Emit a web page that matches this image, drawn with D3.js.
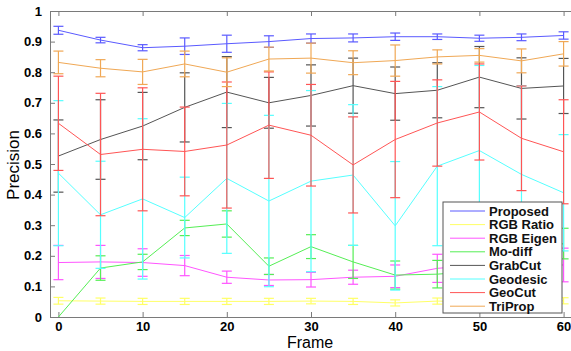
<!DOCTYPE html>
<html>
<head>
<meta charset="utf-8">
<script src="https://cdn.jsdelivr.net/npm/d3@7"></script>
<style>
  body { margin: 0; background: #fff; }
  text { font-family: "Liberation Sans", Arial, sans-serif; }
</style>
</head>
<body>
<script>
var frames = [0, 5, 10, 15, 20, 25, 30, 35, 40, 45, 50, 55, 60];
var yTicks = [0, 0.1, 0.2, 0.3, 0.4, 0.5, 0.6, 0.7, 0.8, 0.9, 1];
var xTicks = [0, 10, 20, 30, 40, 50, 60];

var proposed    = [0.937, 0.905, 0.880, 0.885, 0.893, 0.900, 0.910, 0.912, 0.916, 0.916, 0.911, 0.914, 0.920];
var proposedErr = [0.013, 0.009, 0.010, 0.027, 0.028, 0.019, 0.015, 0.013, 0.012, 0.009, 0.010, 0.011, 0.012];
var rgbRatio    = [0.053, 0.052, 0.051, 0.051, 0.051, 0.051, 0.052, 0.051, 0.046, 0.052, 0.050, 0.051, 0.053];
var rgbRatioErr = [0.011, 0.010, 0.010, 0.010, 0.010, 0.010, 0.009, 0.010, 0.010, 0.010, 0.010, 0.010, 0.010];
var rgbEigen    = [0.178, 0.180, 0.178, 0.168, 0.130, 0.121, 0.122, 0.130, 0.133, 0.159, 0.170, 0.170, 0.170];
var rgbEigenErr = [0.056, 0.054, 0.045, 0.033, 0.020, 0.018, 0.024, 0.023, 0.037, 0.046, 0.045, 0.050, 0.055];
var moDiff      = [0.000, 0.160, 0.180, 0.291, 0.304, 0.166, 0.230, 0.180, 0.137, 0.140, 0.150, 0.200, 0.240];
var moDiffErr   = [0.000, 0.040, 0.025, 0.025, 0.043, 0.027, 0.039, 0.054, 0.046, 0.045, 0.050, 0.050, 0.050];
var grabCut     = [0.526, 0.580, 0.624, 0.685, 0.735, 0.700, 0.724, 0.756, 0.730, 0.741, 0.784, 0.747, 0.755];
var grabCutErr  = [0.118, 0.130, 0.110, 0.113, 0.116, 0.083, 0.100, 0.090, 0.087, 0.090, 0.100, 0.100, 0.090];
var geodesic    = [0.470, 0.334, 0.386, 0.325, 0.453, 0.379, 0.444, 0.464, 0.298, 0.493, 0.544, 0.466, 0.406];
var geodesicErr = [0.237, 0.175, 0.262, 0.132, 0.245, 0.280, 0.296, 0.230, 0.210, 0.260, 0.278, 0.290, 0.190];
var geoCut      = [0.633, 0.531, 0.548, 0.541, 0.562, 0.627, 0.594, 0.497, 0.580, 0.634, 0.670, 0.584, 0.540];
var geoCutErr   = [0.154, 0.200, 0.201, 0.145, 0.206, 0.174, 0.166, 0.157, 0.190, 0.141, 0.157, 0.171, 0.170];
var triProp     = [0.832, 0.813, 0.801, 0.827, 0.800, 0.843, 0.846, 0.831, 0.838, 0.850, 0.855, 0.837, 0.860];
var triPropErr  = [0.037, 0.028, 0.041, 0.042, 0.047, 0.039, 0.049, 0.039, 0.051, 0.023, 0.022, 0.039, 0.040];

var names  = ['Proposed', 'RGB Ratio', 'RGB Eigen', 'Mo-diff', 'GrabCut', 'Geodesic', 'GeoCut', 'TriProp'];
var colors = ['#5a5aff', '#ffff66', '#ff55ff', '#55ee55', '#555555', '#55ffff', '#ff5555', '#f0a855'];
var means  = [proposed, rgbRatio, rgbEigen, moDiff, grabCut, geodesic, geoCut, triProp];
var errs   = [proposedErr, rgbRatioErr, rgbEigenErr, moDiffErr, grabCutErr, geodesicErr, geoCutErr, triPropErr];

var series = names.map(function (n, i) {
  return {
    name: n, color: colors[i],
    points: frames.map(function (f, j) { return { x: f, y: means[i][j], e: errs[i][j] }; })
  };
});

var W = 571, H = 351;
var pLeft = 50, pTop = 11, pRight = 572, pBottom = 317;

var x = d3.scaleLinear().domain([-1, 61]).range([pLeft, pRight]);
var y = d3.scaleLinear().domain([0, 1]).range([pBottom, pTop]);

var svg = d3.select('body').append('svg')
    .attr('width', W)
    .attr('height', H);

svg.append('defs').append('clipPath')
    .attr('id', 'plot')
  .append('rect')
    .attr('x', pLeft).attr('y', pTop)
    .attr('width', pRight - pLeft).attr('height', pBottom - pTop);

// axes (MATLAB style: ticks inside, box on top)
var axisColor = '#7a7a7a';
var gx = svg.append('g')
    .attr('transform', 'translate(0,' + pBottom + ')')
    .call(d3.axisBottom(x).tickValues(xTicks).tickSize(-5).tickPadding(5).tickFormat(d3.format('d')));
var gxTop = svg.append('g')
    .attr('transform', 'translate(0,' + pTop + ')')
    .call(d3.axisTop(x).tickValues(xTicks).tickSize(-5).tickFormat(''));
var gy = svg.append('g')
    .attr('transform', 'translate(' + pLeft + ',0)')
    .call(d3.axisLeft(y).tickValues(yTicks).tickSize(-5).tickPadding(8)
      .tickFormat(function (d) { return d === 0 || d === 1 ? d3.format('d')(d) : d3.format('.1f')(d); }));

[gx, gxTop, gy].forEach(function (g) {
  g.select('.domain').attr('stroke', axisColor);
  g.selectAll('.tick line').attr('stroke', axisColor);
  g.selectAll('.tick text')
      .attr('fill', '#000')
      .style('font-size', '13px')
      .style('font-weight', 'bold');
});

svg.append('text')
    .attr('x', 310)
    .attr('y', 348)
    .attr('text-anchor', 'middle')
    .style('font-size', '16px')
    .text('Frame');

svg.append('text')
    .attr('transform', 'translate(19,165) rotate(-90)')
    .attr('text-anchor', 'middle')
    .style('font-size', '17px')
    .text('Precision');

var plot = svg.append('g').attr('clip-path', 'url(#plot)');

var line = d3.line()
    .x(function (d) { return x(d.x); })
    .y(function (d) { return y(d.y); });

var cap = 5;
series.forEach(function (s) {
  var g = plot.append('g');
  g.append('path')
      .datum(s.points)
      .attr('fill', 'none')
      .attr('stroke', s.color)
      .attr('stroke-width', 1)
      .attr('d', line);

  var bars = g.selectAll('g.bar')
    .data(s.points.filter(function (d) { return d.e > 0; }))
    .enter().append('g')
      .attr('stroke', s.color)
      .attr('stroke-width', 1.2);
  bars.append('line')
      .attr('x1', function (d) { return x(d.x); })
      .attr('x2', function (d) { return x(d.x); })
      .attr('y1', function (d) { return y(d.y - d.e); })
      .attr('y2', function (d) { return y(d.y + d.e); });
  bars.append('line')
      .attr('x1', function (d) { return x(d.x) - cap; })
      .attr('x2', function (d) { return x(d.x) + cap; })
      .attr('y1', function (d) { return y(d.y + d.e); })
      .attr('y2', function (d) { return y(d.y + d.e); });
  bars.append('line')
      .attr('x1', function (d) { return x(d.x) - cap; })
      .attr('x2', function (d) { return x(d.x) + cap; })
      .attr('y1', function (d) { return y(d.y - d.e); })
      .attr('y2', function (d) { return y(d.y - d.e); });
});

// legend
var lx = 443, ly = 202, lw = 119, lh = 111;
var legend = svg.append('g');
legend.append('rect')
    .attr('x', lx).attr('y', ly)
    .attr('width', lw).attr('height', lh)
    .attr('fill', '#fff')
    .attr('stroke', '#555');

var row = legend.selectAll('g.row')
  .data(series)
  .enter().append('g')
    .attr('transform', function (d, i) { return 'translate(' + lx + ',' + (ly + 9 + i * 13.6) + ')'; });
row.append('line')
    .attr('x1', 7).attr('x2', 42)
    .attr('stroke', function (d) { return d.color; })
    .attr('stroke-width', 1);
row.append('text')
    .attr('x', 46)
    .attr('dy', '0.35em')
    .style('font-size', '13px')
    .style('font-weight', 'bold')
    .attr('fill', '#111')
    .text(function (d) { return d.name; });
</script>
</body>
</html>
